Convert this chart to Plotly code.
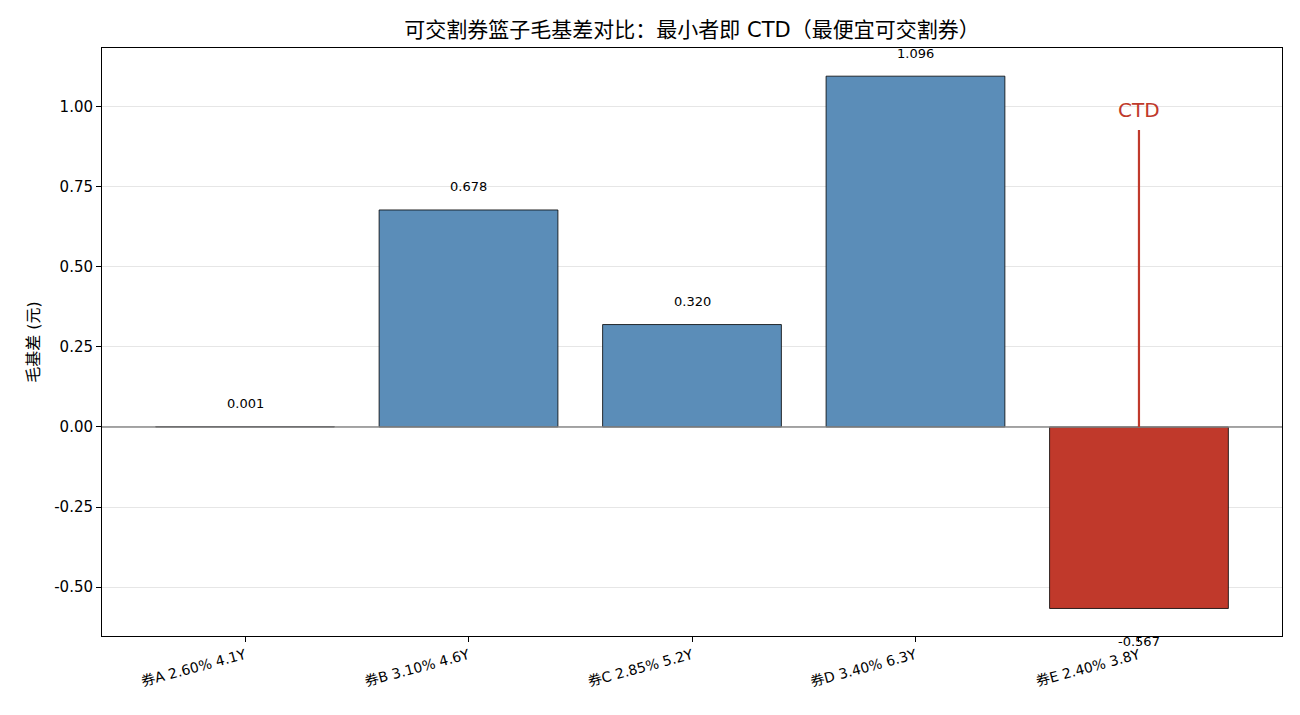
import plotly.graph_objects as go

categories = ["券A 2.60% 4.1Y", "券B 3.10% 4.6Y", "券C 2.85% 5.2Y", "券D 3.40% 6.3Y", "券E 2.40% 3.8Y"]
gross_basis = [0.001, 0.678, 0.320, 1.096, -0.567]
ctd_index = 4

blue = "#5b8db8"
red = "#c0392b"
colors = [red if i == ctd_index else blue for i in range(len(categories))]
xs = list(range(len(categories)))

FONT = "'DejaVu Sans', 'Noto Sans CJK SC', sans-serif"

fig = go.Figure()
fig.add_trace(go.Bar(
    x=xs, y=gross_basis, width=0.8,
    marker=dict(color=colors, line=dict(color="black", width=0.8)),
    showlegend=False, hoverinfo="skip",
))

# zero line
fig.add_shape(type="line", xref="paper", yref="y", x0=0, x1=1, y0=0, y1=0,
              line=dict(color="#8a8a8a", width=1.6), layer="above")

# value labels
for x, v in zip(xs, gross_basis):
    if v >= 0:
        fig.add_annotation(x=x, y=v + 0.072, text=f"{v:.3f}", showarrow=False,
                           font=dict(size=13, color="black", family=FONT), yanchor="middle")
    else:
        fig.add_annotation(x=x, y=v, text=f"{v:.3f}", showarrow=False, yshift=-33,
                           font=dict(size=13, color="black", family=FONT), yanchor="middle")

# CTD marker
top_v = 0.928
fig.add_shape(type="line", xref="x", yref="y", x0=ctd_index, x1=ctd_index, y0=0, y1=top_v,
              line=dict(color=red, width=2.2), layer="above")
fig.add_annotation(x=ctd_index, y=0.99, text="CTD", showarrow=False,
                   font=dict(size=20, color=red, family=FONT), yanchor="middle")

fig.update_layout(
    width=1300, height=715,
    margin=dict(l=102, r=18, t=48, b=79),
    paper_bgcolor="white", plot_bgcolor="white",
    font=dict(family=FONT, size=13, color="black"),
    title=dict(text="可交割券篮子毛基差对比：最小者即 CTD（最便宜可交割券）",
               x=0.5, xref="paper", xanchor="center", y=0.958, yanchor="middle",
               font=dict(size=21, color="black", family=FONT)),
    xaxis=dict(range=[-0.64, 4.64], tickvals=xs, ticktext=categories, tickangle=-15,
               showline=True, linecolor="black", linewidth=1, mirror=True,
               ticks="outside", ticklen=5, tickcolor="black",
               showgrid=False, zeroline=False, tickfont=dict(size=14)),
    yaxis=dict(range=[-0.653, 1.184], tickvals=[-0.5, -0.25, 0, 0.25, 0.5, 0.75, 1.0],
               ticktext=["-0.50", "-0.25", "0.00", "0.25", "0.50", "0.75", "1.00"],
               showline=True, linecolor="black", linewidth=1, mirror=True,
               ticks="outside", ticklen=5, tickcolor="black",
               showgrid=True, gridcolor="#e6e6e6", gridwidth=1, zeroline=False,
               title=dict(text="毛基差 (元)", font=dict(size=16), standoff=10),
               tickfont=dict(size=15)),
    bargap=0.2,
)

fig.write_html("out.html")
